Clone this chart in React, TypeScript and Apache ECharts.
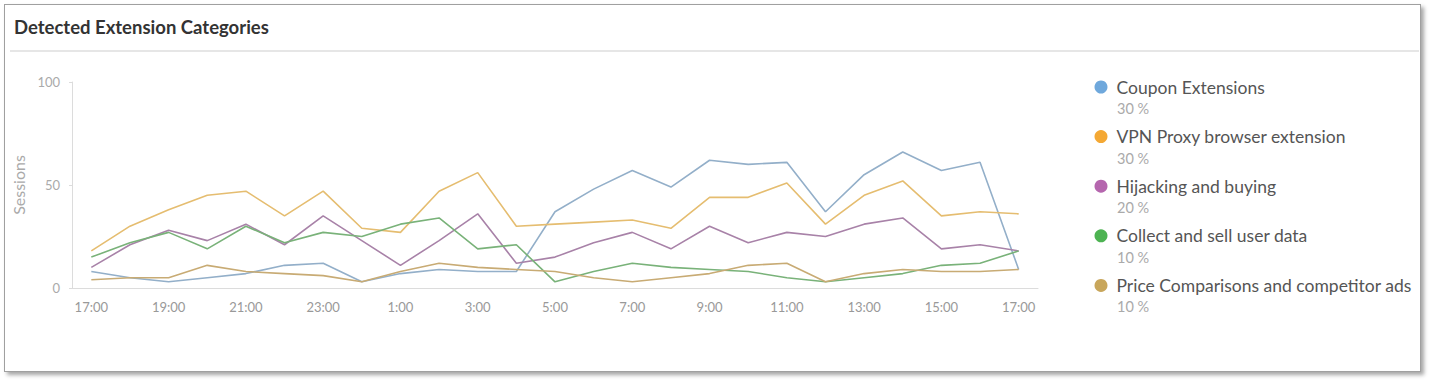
import React, { useEffect, useRef } from "react";
import * as echarts from "echarts";

const hours = [
  "17:00", "18:00", "19:00", "20:00", "21:00", "22:00", "23:00", "0:00", "1:00", "2:00",
  "3:00", "4:00", "5:00", "6:00", "7:00", "8:00", "9:00", "10:00", "11:00", "12:00",
  "13:00", "14:00", "15:00", "16:00", "17:00",
];

const seriesNames = [
  "Coupon Extensions",
  "VPN Proxy browser extension",
  "Hijacking and buying",
  "Collect and sell user data",
  "Price Comparisons and competitor ads",
];

const percentLabels = ["30 %", "30 %", "20 %", "10 %", "10 %"];

const couponValues = [8, 5, 3, 5, 7, 11, 12, 3, 7, 9, 8, 8, 37, 48, 57, 49, 62, 60, 61, 37, 55, 66, 57, 61, 9];
const vpnValues = [18, 30, 38, 45, 47, 35, 47, 29, 27, 47, 56, 30, 31, 32, 33, 29, 44, 44, 51, 31, 45, 52, 35, 37, 36];
const hijackValues = [10, 21, 28, 23, 31, 21, 35, 23, 11, 23, 36, 12, 15, 22, 27, 19, 30, 22, 27, 25, 31, 34, 19, 21, 18];
const collectValues = [15, 22, 27, 19, 30, 22, 27, 25, 31, 34, 19, 21, 3, 8, 12, 10, 9, 8, 5, 3, 5, 7, 11, 12, 18];
const priceValues = [4, 5, 5, 11, 8, 7, 6, 3, 8, 12, 10, 9, 8, 5, 3, 5, 7, 11, 12, 3, 7, 9, 8, 8, 9];

const allValues = [couponValues, vpnValues, hijackValues, collectValues, priceValues];

const dotColors = ["#6fa8dc", "#f4a834", "#b566ae", "#4db352", "#c8a65b"];
const lineColors = ["#93afc9", "#e5bd70", "#a882a8", "#79b279", "#c8ab74"];

const FONT = "Lato, 'Noto Sans', sans-serif";

export default function App() {
  const ref = useRef<HTMLDivElement>(null);

  useEffect(() => {
    if (!ref.current) return;
    const chart = echarts.init(ref.current, undefined, { renderer: "svg" });

    const legendStep = 49.6;

    chart.setOption({
      animation: false,
      textStyle: { fontFamily: FONT },
      title: {
        text: "Detected Extension Categories",
        left: 14,
        top: 17,
        padding: 0,
        textStyle: { fontFamily: FONT, fontSize: 18.5, fontWeight: "bold", color: "#333" },
      },
      grid: { left: 72, right: 393, top: 82, bottom: 97 },
      legend: {
        orient: "vertical",
        left: 1094.5,
        top: 78,
        padding: 0,
        icon: "circle",
        itemWidth: 13,
        itemHeight: 13,
        itemGap: 31.6,
        data: seriesNames,
        textStyle: { fontFamily: FONT, fontSize: 17.5, color: "#555", padding: [0, 0, 0, 4] },
      },
      graphic: [
        {
          type: "line",
          shape: { x1: 10, y1: 51, x2: 1419, y2: 51 },
          style: { stroke: "#dedede", lineWidth: 1.5 },
        },
        ...percentLabels.map((p, i) => ({
          type: "text",
          left: 1117,
          top: 101 + i * legendStep,
          style: { text: p, fill: "#aaa", fontSize: 14.5, fontFamily: FONT },
        })),
      ],
      xAxis: {
        type: "category",
        data: hours,
        boundaryGap: true,
        axisLine: { lineStyle: { color: "#dcdcdc" } },
        axisTick: { interval: 0, length: 5, lineStyle: { color: "#dcdcdc" } },
        axisLabel: { interval: 1, color: "#999", fontSize: 13, margin: 12, fontFamily: FONT },
      },
      yAxis: {
        type: "value",
        min: 0,
        max: 100,
        interval: 50,
        name: "Sessions",
        nameLocation: "middle",
        nameGap: 42,
        nameTextStyle: { color: "#aaa", fontSize: 16, fontFamily: FONT },
        axisLine: { show: true, lineStyle: { color: "#dcdcdc" } },
        axisTick: { show: true, length: 3, lineStyle: { color: "#dcdcdc" } },
        splitLine: { show: false },
        axisLabel: { color: "#aaa", fontSize: 13, margin: 12, fontFamily: FONT },
      },
      series: seriesNames.map((name, i) => ({
        name,
        type: "line",
        data: allValues[i],
        showSymbol: false,
        symbol: "circle",
        itemStyle: { color: dotColors[i] },
        lineStyle: { color: lineColors[i], width: 1.6 },
      })),
    });

    return () => chart.dispose();
  }, []);

  return (
    <div style={{ position: "fixed", left: 0, top: 0, width: 1431, height: 385, background: "#fff" }}>
      <div
        style={{
          position: "absolute",
          left: 4,
          top: 4,
          width: 1415,
          height: 366,
          border: "1px solid #a0a0a0",
          boxShadow: "3px 3px 4px rgba(0,0,0,0.35)",
          background: "#fff",
        }}
      />
      <div ref={ref} style={{ position: "absolute", left: 0, top: 0, width: 1431, height: 385 }} />
    </div>
  );
}
